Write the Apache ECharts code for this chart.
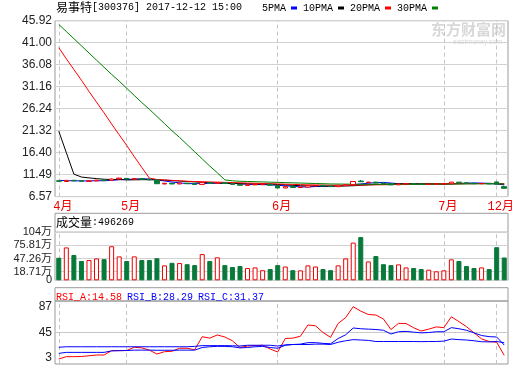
<!DOCTYPE html>
<html><head><meta charset="utf-8">
<script src="https://cdn.jsdelivr.net/npm/echarts@6/dist/echarts.min.js"></script>
<style>html,body{margin:0;padding:0;background:#fff}#c{width:520px;height:365px}</style>
</head><body><div id="c"></div>
<script>
const dates = [
 '2017-04-18','2017-04-19','2017-04-20','2017-04-21','2017-04-24','2017-04-25','2017-04-26','2017-04-27','2017-04-28',
 '2017-05-02','2017-05-03','2017-05-04','2017-05-05','2017-05-08','2017-05-09','2017-05-10','2017-05-11','2017-05-12','2017-05-15',
 '2017-05-16','2017-05-17','2017-05-18','2017-05-19','2017-05-22','2017-05-23','2017-05-24','2017-05-25','2017-05-26','2017-05-31',
 '2017-06-01','2017-06-02','2017-06-05','2017-06-06','2017-06-07','2017-06-08','2017-06-09','2017-06-12','2017-06-13','2017-06-14',
 '2017-06-15','2017-06-16','2017-06-19','2017-06-20','2017-06-21','2017-06-22','2017-06-23','2017-06-26','2017-06-27','2017-06-28',
 '2017-06-29','2017-06-30',
 '2017-07-03','2017-07-04','2017-07-05','2017-07-06','2017-07-07','2017-07-10','2017-07-11',
 '2017-12-11','2017-12-12'];
const open  = [10.10,9.95,10.22,10.15,9.98,10.08,10.28,10.20,10.50, 10.65,10.45,10.60,10.45,10.30,9.40,9.55,9.40,9.58,9.45, 9.30,9.70,9.55,9.68,9.50,9.30,9.08,9.20,9.25,9.35, 9.05,8.50,8.80,8.60,8.70,8.98,9.05,8.95,8.80,9.00, 9.25,10.05,9.70,9.80,9.60,9.50,9.20,9.38,9.45,9.35, 9.30,9.35, 9.40,9.45,9.80,9.65,9.55,9.45,9.55, 9.85,8.80];
const close = [10.00,10.20,10.10,10.00,10.10,10.25,10.15,10.50,10.70, 10.50,10.60,10.45,10.30,9.45,9.55,9.40,9.60,9.45,9.30, 9.70,9.55,9.70,9.50,9.30,9.10,9.20,9.30,9.35,9.10, 8.50,8.80,8.60,8.70,9.00,9.05,8.95,8.80,9.10,9.25, 9.95,9.90,9.80,9.60,9.50,9.20,9.40,9.45,9.35,9.30, 9.35,9.40, 9.45,9.80,9.65,9.55,9.45,9.50,9.40, 9.36,8.42];
const low   = [9.92,9.90,10.02,9.95,9.92,10.02,10.10,10.15,10.45, 10.42,10.40,10.38,10.22,9.40,9.32,9.35,9.36,9.40,9.25, 9.28,9.50,9.50,9.45,9.25,9.05,9.02,9.15,9.20,9.05, 8.45,8.46,8.55,8.56,8.66,8.92,8.90,8.75,8.78,8.96, 9.20,9.82,9.62,9.55,9.45,9.15,9.18,9.32,9.30,9.25, 9.26,9.30, 9.36,9.42,9.60,9.50,9.40,9.40,9.36, 9.30,8.42];
const high  = [10.18,10.28,10.30,10.20,10.18,10.32,10.35,10.62,10.80, 10.72,10.68,10.66,10.50,10.35,9.62,9.60,9.66,9.62,9.50, 9.78,9.75,9.76,9.72,9.52,9.32,9.26,9.36,9.40,9.38, 9.08,8.86,8.84,8.76,9.06,9.12,9.10,8.98,9.15,9.30, 10.00,10.28,9.88,9.85,9.64,9.55,9.45,9.50,9.48,9.40, 9.40,9.45, 9.50,9.86,9.84,9.68,9.58,9.55,9.58, 9.90,8.95];
const ma5  = [10.20,10.15,10.10,10.08,10.08,10.13,10.12,10.20,10.34,10.42,10.49,10.55,10.51,10.26,10.07,9.83,9.64,9.49,9.46,9.49,9.54,9.58,9.61,9.55,9.43,9.32,9.28,9.25,9.21,9.09,8.99,8.87,8.74,8.72,8.83,8.86,8.90,8.98,9.04,9.21,9.40,9.56,9.70,9.75,9.60,9.46,9.43,9.38,9.34,9.37,9.37,9.37,9.46,9.53,9.58,9.62,9.59,9.51,9.42,9.18];
const ma10 = [21.2,16.4,11.6,10.95,10.75,10.6,10.45,10.4,10.4,10.3,10.32,10.35,10.36,10.3,10.25,10.15,10.05,9.95,9.85,9.75,9.7,9.6,9.55,9.52,9.48,9.45,9.4,9.38,9.35,9.28,9.2,9.1,9.0,8.98,8.95,8.92,8.9,8.9,8.95,9.0,9.1,9.2,9.28,9.35,9.38,9.42,9.45,9.45,9.45,9.45,9.42,9.4,9.42,9.45,9.48,9.5,9.5,9.48,9.46,9.36];
const ma20 = [39.9,37.4,35.0,32.6,30.1,27.7,25.3,22.8,20.4,18.0,15.5,13.1,10.7,10.4,10.3,10.2,10.1,10.0,9.95,9.9,9.85,9.8,9.75,9.7,9.65,9.6,9.55,9.5,9.45,9.4,9.35,9.3,9.25,9.2,9.18,9.15,9.12,9.1,9.1,9.12,9.15,9.18,9.2,9.22,9.25,9.28,9.3,9.32,9.35,9.38,9.4,9.42,9.44,9.45,9.46,9.47,9.48,9.5,9.48,9.43];
const ma30 = [45.1,43.5,41.9,40.3,38.7,37.1,35.5,33.9,32.4,30.8,29.2,27.6,26.1,24.5,22.9,21.3,19.8,18.2,16.6,15.0,13.4,11.9,10.3,10.1,10.0,9.95,9.9,9.85,9.8,9.75,9.7,9.65,9.6,9.55,9.5,9.45,9.4,9.38,9.36,9.35,9.34,9.33,9.32,9.32,9.32,9.32,9.33,9.33,9.34,9.35,9.36,9.37,9.38,9.4,9.42,9.43,9.44,9.45,9.44,9.41];
const volume = [49,71.5,55,42,44,47.6,46,74,52,42,52,44,44,48,32.5,38,37.5,35,33,57,42,50,33,29,31,26.7,28,22,24.5,33,30,22,21.6,32.5,30,24.5,22,32.5,47.6,82,94,41,52.7,35,33,34.6,28,26.7,24.5,23,19.5,21.6,45.5,42,31,26.7,28,24.5,72,49.63];
const rsiA = [9.7,12.8,12.8,13,14,15,15,20.8,20.8,21,25.3,24.5,21.5,16.3,19.4,20,24,24,22,39.4,37.5,41.7,39,34,25,27,27.5,28,23,19,37,37.5,40,55,54,45,38.6,57,65,79.4,73.5,69,68.3,63,49,57.2,57,51.4,47,49.5,52.5,51.5,66,59.5,52.8,44.5,36.5,33,32,14.58];
const rsiB = [17.2,18.5,18.5,18.5,18.5,18.5,18.5,20.5,20.8,21,21.5,21.5,21.5,21.3,21.3,21.3,21.5,21.5,21.5,25,26,26.5,26.5,26,24.5,25,26,26.5,25,24,28,29,29.5,31.5,31.5,30.5,30,37,42,51,50,49.5,49,48,43,46,46.5,45.5,44.5,45,46,46,51.5,50,48,44.5,41,39.5,39,28.29];
const rsiC = [25.3,26,26,26,26,26,26,26,26,26,26,26,26,26,26,26,26,26,26.5,27.5,27.5,27.5,27.5,27.3,27,28,28,28,28,27,28.5,29,29,29,29.5,29.5,29,32,34,35.5,35,34.5,33,33,33,33,33,33,32.8,33,33,33.5,36.3,35.5,35,34,32.7,32.5,33,31.37];
const priceTicks = ['6.57','11.49','16.40','21.32','26.24','31.16','36.08','41.00','45.92'];
const volTicks = [0,18.71,47.26,75.81,104.36];
const volTickLabels = ['0','18.71万','47.26万','75.81万','104万'];
const rsiTicks = [3,45,87];
const maNames = ['5PMA','10PMA','20PMA','30PMA'];

const UP = '#ee0000', DOWN = '#08793a';
const monthIdx = dates.map((d,i)=> (i===0 || d.slice(5,7)!==dates[i-1].slice(5,7)) ? i : -1).filter(i=>i>=0);
const monthStart = new Set(monthIdx);
const isMonth = (i)=>monthStart.has(i);
const L = 55, R = 12;
const grids = [
  {left:L,right:R,top:20.7,height:175.9},
  {left:L,right:R,top:232.3,height:48},
  {left:L,right:R,top:301,height:63}
].map(g=>Object.assign(g,{show:true,borderColor:'#9a9a9a',borderWidth:1,containLabel:false}));
const xAxes = [0,1,2].map(gi=>({
  type:'category',gridIndex:gi,data:dates,boundaryGap:true,
  axisLine:{show:false},axisTick:{show:false},splitLine:{show:false},
  axisLabel: gi===0 ? {show:true,interval:(i)=>isMonth(i),margin:4,color:UP,fontSize:12,
     fontFamily:"'Liberation Mono','Noto Sans CJK SC'",
     formatter:(v)=>'{a|'+parseInt(v.slice(5,7),10)+'月}',
     rich:{a:{padding:[0,0,0,8],color:UP,fontSize:12,fontFamily:"'Liberation Mono','Noto Sans CJK SC'"}}} : {show:false}
}));
const yLabelStyle = {color:'#222',fontSize:12,fontFamily:'Liberation Sans',margin:3,hideOverlap:false,showMinLabel:true,showMaxLabel:true};
const volLabel = (v)=>{let k=0;volTicks.forEach((t,i)=>{if(Math.abs(t-v)<Math.abs(volTicks[k]-v))k=i;});return volTickLabels[k];};
const volLabelStyle = Object.assign({},yLabelStyle,{fontSize:11,fontFamily:"'Liberation Sans','Noto Sans CJK SC'",formatter:volLabel});
const yAxes = [
  {type:'value',gridIndex:0,min:6.57,max:45.92,axisLine:{show:false},
   axisTick:{show:false,customValues:priceTicks.map(Number)},
   axisLabel:Object.assign({customValues:priceTicks.map(Number),formatter:(v)=>{let best=priceTicks[0];priceTicks.forEach(t=>{if(Math.abs(Number(t)-v)<Math.abs(Number(best)-v))best=t;});return best;}},yLabelStyle),
   splitLine:{show:true,lineStyle:{color:'#d2d2d2'}}},
  {type:'value',gridIndex:1,min:0,max:104.36,axisLine:{show:false},
   axisTick:{show:false,customValues:volTicks},
   axisLabel:Object.assign({},volLabelStyle,{customValues:volTicks.slice(1)}),
   splitLine:{show:true,lineStyle:{color:'#d2d2d2'}}},
  {type:'value',gridIndex:2,min:3,max:87,axisLine:{show:false},
   axisTick:{show:false,customValues:[45]},
   axisLabel:Object.assign({customValues:rsiTicks,verticalAlignMinLabel:'bottom',verticalAlignMaxLabel:'top'},yLabelStyle),
   splitLine:{show:true,lineStyle:{color:'#c8c8c8'}}},
  {type:'value',gridIndex:1,min:0,max:104.36,position:'left',axisLine:{show:false},
   axisTick:{show:false,customValues:[0]},
   axisLabel:Object.assign({},volLabelStyle,{customValues:volTicks.slice(0,1)}),
   splitLine:{show:false}}
];
const candle = dates.map((d,i)=>[open[i],close[i],low[i],high[i]]);
const volData = volume.map((v,i)=> close[i]>=open[i]
  ? {value:v,itemStyle:{color:'#fff',borderColor:UP,borderWidth:1}}
  : {value:v,itemStyle:{color:DOWN,borderColor:DOWN,borderWidth:1}});
const maColors = ['#0000ff','#000000','#ff0000','#008000'];
const maSeries = [ma5,ma10,ma20,ma30].map((arr,k)=>({name:maNames[k],type:'line',xAxisIndex:0,yAxisIndex:0,data:arr,symbol:'none',
  lineStyle:{width:1,color:maColors[k]},itemStyle:{color:maColors[k]},z:3}));
const monthLines = [0,1,2].map(gi=>({type:'line',xAxisIndex:gi,yAxisIndex:gi,data:[],z:0,silent:true,
  markLine:{silent:true,z:0,symbol:['none','none'],label:{show:false},animation:false,
    lineStyle:{color:'#c4c4c4',type:[4,3],width:1},
    data:monthIdx.map(i=>({xAxis:dates[i]}))}}));
const mono = "'Liberation Mono','DejaVu Sans Mono',monospace";
const cjk = "'Noto Sans CJK SC'";
const option = {
  animation:false,
  backgroundColor:'#fff',
  grid:grids, xAxis:xAxes, yAxis:yAxes,
  title:[
    {left:56,top:1,padding:0,text:'{c|易事特}{m|[300376] 2017-12-12 15:00}',textStyle:{rich:{c:{fontFamily:cjk,fontSize:12,fontWeight:'normal',color:'#000'},m:{fontFamily:mono,fontSize:10,fontWeight:'normal',color:'#000'}}}},
    {left:56,top:216,padding:0,text:'{c|成交量}{m|:496269}',textStyle:{rich:{c:{fontFamily:cjk,fontSize:12,fontWeight:'normal',color:'#000'},m:{fontFamily:mono,fontSize:10,fontWeight:'normal',color:'#000'}}}},
    {left:56,top:288,padding:0,text:'{a|RSI_A:14.58} {b|RSI_B:28.29} {b|RSI_C:31.37}',textStyle:{rich:{a:{fontFamily:mono,fontSize:10,fontWeight:'normal',color:'#ff0000'},b:{fontFamily:mono,fontSize:10,fontWeight:'normal',color:'#0000ff'}}}}
  ],
  legend:{data:maNames,left:262,top:3,padding:0,icon:'rect',itemWidth:6,itemHeight:3,align:'right',itemGap:6,
    textStyle:{fontFamily:mono,fontSize:10,color:'#000'},selectedMode:false},
  graphic:[
    {type:'rect',shape:{x:L,y:213.3,width:520-L-R,height:19},style:{fill:'none',stroke:'#9a9a9a',lineWidth:1},silent:true},
    {type:'rect',shape:{x:L,y:287.7,width:520-L-R,height:13.3},style:{fill:'none',stroke:'#9a9a9a',lineWidth:1},silent:true},
    {type:'text',right:14,top:22,style:{text:'东方财富网',fontFamily:cjk,fontSize:15,fontWeight:'bold',fill:'#d8d8d8'},silent:true,z:-1},
    {type:'text',right:18,top:39,style:{text:'eastmoney.com',fontFamily:'Liberation Sans',fontSize:7,fill:'#d8d8d8'},silent:true,z:-1}
  ],
  series:[
    ...monthLines,
    {type:'candlestick',xAxisIndex:0,yAxisIndex:0,data:candle,barWidth:5,
     itemStyle:{color:'#fff',color0:DOWN,borderColor:UP,borderColor0:DOWN,borderWidth:1},z:4},
    ...maSeries,
    {type:'bar',xAxisIndex:1,yAxisIndex:1,data:volData,barWidth:5,z:3},
    {type:'line',xAxisIndex:2,yAxisIndex:2,data:rsiA,symbol:'none',lineStyle:{width:1,color:'#ff0000'},z:3},
    {type:'line',xAxisIndex:2,yAxisIndex:2,data:rsiB,symbol:'none',lineStyle:{width:1,color:'#0000ff'},z:3},
    {type:'line',xAxisIndex:2,yAxisIndex:2,data:rsiC,symbol:'none',lineStyle:{width:1,color:'#0000ff'},z:3}
  ]
};
const chart = echarts.init(document.getElementById('c'),null,{renderer:'canvas'});
chart.setOption(option);
</script></body></html>
